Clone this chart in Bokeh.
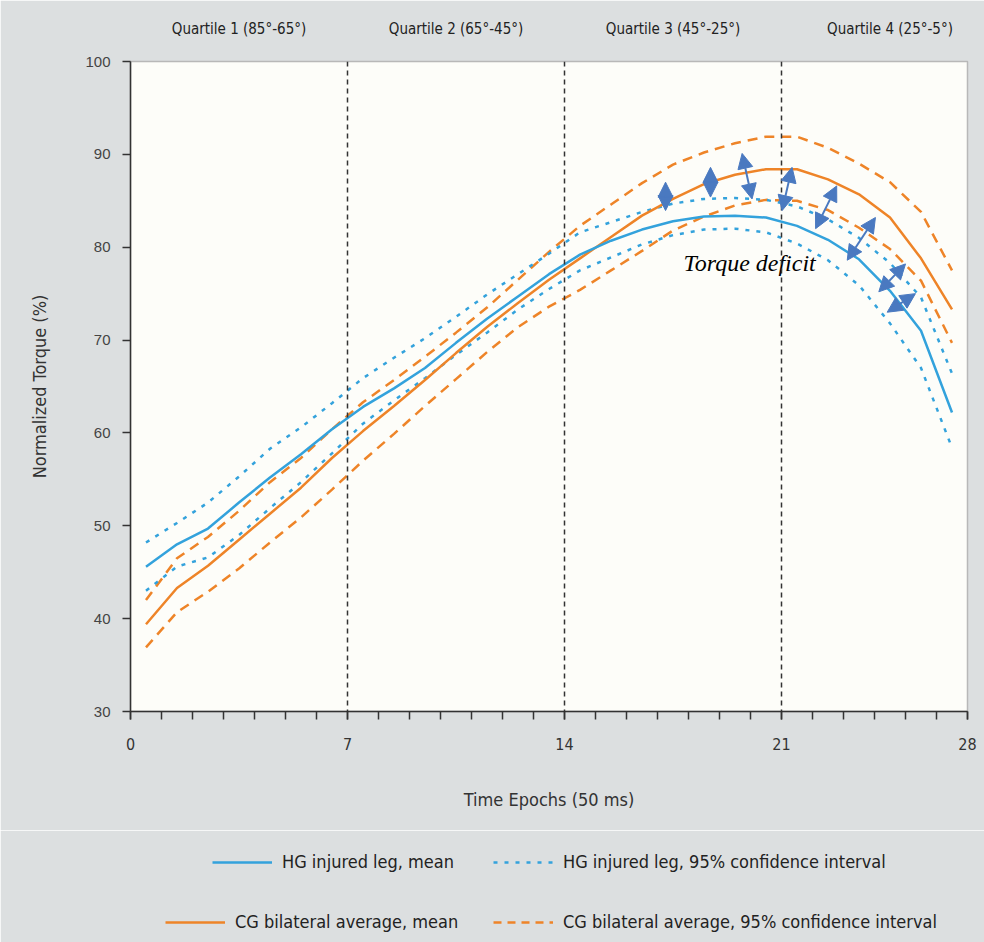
from bokeh.plotting import figure
from bokeh.layouts import column
from bokeh.models import (ColumnDataSource, Range1d, FixedTicker, LinearAxis, Span,
                          Arrow, NormalHead, Legend, LegendItem)
from bokeh.embed import file_html
from bokeh.resources import INLINE
from bokeh.core.properties import value

# ---------------- data ----------------
epochs = [0.5, 1.5, 2.5, 3.5, 4.5, 5.5, 6.5, 7.5, 8.5, 9.5, 10.5, 11.5, 12.5, 13.5,
          14.5, 15.5, 16.5, 17.5, 18.5, 19.5, 20.5, 21.5, 22.5, 23.5, 24.5, 25.5, 26.5]

hg_mean = [45.6, 48.0, 49.7, 52.5, 55.2, 57.7, 60.4, 62.8, 64.8, 67.0, 69.7, 72.3, 74.7, 77.1,
           79.2, 80.7, 81.9, 82.8, 83.3, 83.4, 83.2, 82.3, 80.8, 78.7, 75.3, 71.0, 62.2]
hg_upper = [48.2, 50.3, 52.5, 55.3, 58.3, 60.6, 63.2, 65.9, 68.1, 70.2, 72.5, 74.9, 77.1, 79.3,
            81.6, 82.7, 83.8, 84.7, 85.2, 85.3, 85.1, 84.4, 83.0, 81.0, 78.3, 74.6, 66.4]
hg_lower = [43.0, 45.6, 46.6, 49.0, 51.9, 54.7, 57.8, 61.0, 63.5, 65.9, 68.4, 70.8, 73.3, 75.5,
            77.5, 78.9, 80.3, 81.3, 81.9, 82.0, 81.6, 80.4, 78.6, 75.9, 71.8, 67.0, 58.4]

cg_mean = [39.4, 43.3, 45.7, 48.5, 51.3, 54.1, 57.3, 60.2, 62.9, 65.7, 68.6, 71.4, 74.0, 76.5,
           78.8, 81.1, 83.4, 85.2, 86.8, 87.8, 88.4, 88.4, 87.3, 85.7, 83.2, 78.8, 73.3]
cg_upper = [42.0, 46.5, 48.8, 51.6, 54.7, 57.3, 60.4, 63.3, 65.7, 68.2, 70.8, 73.5, 76.5, 79.5,
            82.3, 84.6, 86.9, 88.9, 90.2, 91.2, 91.9, 91.9, 90.7, 89.0, 87.0, 83.8, 77.5]
cg_lower = [36.9, 40.7, 42.9, 45.4, 48.2, 50.9, 53.9, 57.0, 59.9, 62.9, 65.8, 68.7, 71.4, 73.6,
            75.4, 77.5, 79.6, 81.8, 83.3, 84.5, 85.1, 85.0, 84.0, 82.1, 79.8, 76.4, 69.7]

quartile_bounds = [7, 14, 21]
quartile_centers = [3.5, 10.5, 17.5, 24.5]
quartile_labels = ["Quartile 1 (85°-65°)", "Quartile 2 (65°-45°)",
                   "Quartile 3 (45°-25°)", "Quartile 4 (25°-5°)"]

x_tick_values = [0, 7, 14, 21, 27]
x_tick_labels = ["0", "7", "14", "21", "28"]
x_minor_ticks = list(range(0, 28))
y_tick_values = [30, 40, 50, 60, 70, 80, 90, 100]

legend_labels = ["HG injured leg, mean", "HG injured leg, 95% confidence interval",
                 "CG bilateral average, mean", "CG bilateral average, 95% confidence interval"]

# torque-deficit arrows (start / end points in data units)
arrow_x0 = [17.26, 18.71, 19.73, 21.34, 22.78, 24.03, 25.00, 25.32]
arrow_y0 = [87.0, 88.6, 90.1, 88.6, 86.6, 83.2, 78.2, 75.0]
arrow_x1 = [17.26, 18.71, 20.05, 21.02, 22.10, 23.12, 24.14, 24.41]
arrow_y1 = [83.95, 85.4, 85.2, 83.95, 82.0, 78.6, 75.2, 73.0]

note_text = "Torque deficit"
note_x = 17.84
note_y = 78.25

# ---------------- style ----------------
BLUE = "#33a2dc"
ORANGE = "#ee8428"
ARROW = "#4a79c0"
COND = "DejaVu Sans Condensed"
PAGE_BG = "#dcdfe0"
PLOT_BG = "#fdfdf9"

p = figure(width=984, height=830, output_backend="svg", toolbar_location=None,
           x_range=Range1d(0, 27), y_range=Range1d(30, 100),
           min_border_left=130, min_border_right=17, min_border_top=61, min_border_bottom=119,
           background_fill_color=PLOT_BG, border_fill_color=PAGE_BG)
p.grid.visible = False
p.outline_line_color = "#b8b8b8"
p.outline_line_width = 1.5

# x axis
xa = p.xaxis[0]
xa.ticker = FixedTicker(ticks=x_tick_values, minor_ticks=x_minor_ticks)
xa.major_label_overrides = {v: t for v, t in zip(x_tick_values, x_tick_labels)}
xa.axis_label = "Time Epochs (50 ms)"
xa.axis_label_text_font = COND
xa.axis_label_text_font_style = "normal"
xa.axis_label_text_font_size = "18px"
xa.axis_label_text_color = "#333333"
xa.axis_label_standoff = 36
xa.major_label_text_font = COND
xa.major_label_text_font_size = "16px"
xa.major_label_text_color = "#333333"
xa.major_label_standoff = 18
xa.axis_line_color = "#333333"
xa.axis_line_width = 1.5
xa.major_tick_line_color = "#333333"
xa.major_tick_line_width = 1.5
xa.minor_tick_line_color = "#333333"
xa.minor_tick_line_width = 1.5
xa.major_tick_out = 8
xa.major_tick_in = 0
xa.minor_tick_out = 8
xa.minor_tick_in = 0

# y axis
ya = p.yaxis[0]
ya.ticker = FixedTicker(ticks=y_tick_values, minor_ticks=[])
ya.axis_label = "Normalized Torque (%)"
ya.axis_label_text_font = COND
ya.axis_label_text_font_style = "normal"
ya.axis_label_text_font_size = "18px"
ya.axis_label_text_color = "#333333"
ya.axis_label_standoff = 32
ya.major_label_text_font = "Liberation Sans"
ya.major_label_text_font_size = "15px"
ya.major_label_text_color = "#444444"
ya.major_label_standoff = 12
ya.axis_line_color = "#333333"
ya.axis_line_width = 1.5
ya.major_tick_line_color = "#333333"
ya.major_tick_line_width = 1.5
ya.major_tick_out = 8
ya.major_tick_in = 0

# top axis carrying the quartile labels
ta = LinearAxis(ticker=FixedTicker(ticks=quartile_centers, minor_ticks=[]),
                major_label_overrides={c: t for c, t in zip(quartile_centers, quartile_labels)})
ta.axis_line_color = None
ta.major_tick_line_color = None
ta.minor_tick_line_color = None
ta.major_tick_out = 0
ta.minor_tick_out = 0
ta.major_label_standoff = 24
ta.major_label_text_font = COND
ta.major_label_text_font_size = "15px"
ta.major_label_text_color = "#222222"
p.add_layout(ta, "above")

# quartile separators
for b in quartile_bounds:
    p.add_layout(Span(location=b, dimension="height", line_color="#333333",
                      line_dash="5 4", line_width=1.5))

# series
src = ColumnDataSource(dict(x=epochs, hg_mean=hg_mean, hg_upper=hg_upper, hg_lower=hg_lower,
                            cg_mean=cg_mean, cg_upper=cg_upper, cg_lower=cg_lower))
p.line("x", "cg_upper", source=src, color=ORANGE, line_width=2.5, line_dash="10 7")
p.line("x", "cg_lower", source=src, color=ORANGE, line_width=2.5, line_dash="10 7")
p.line("x", "hg_upper", source=src, color=BLUE, line_width=2.5, line_dash="4 7")
p.line("x", "hg_lower", source=src, color=BLUE, line_width=2.5, line_dash="4 7")
p.line("x", "cg_mean", source=src, color=ORANGE, line_width=2.5)
p.line("x", "hg_mean", source=src, color=BLUE, line_width=2.5)

# arrows
asrc = ColumnDataSource(dict(x0=arrow_x0, y0=arrow_y0, x1=arrow_x1, y1=arrow_y1))
p.add_layout(Arrow(start=NormalHead(size=15, fill_color=ARROW, line_color=ARROW),
                   end=NormalHead(size=15, fill_color=ARROW, line_color=ARROW),
                   x_start="x0", y_start="y0", x_end="x1", y_end="y1", source=asrc,
                   line_color=ARROW, line_width=2))

p.text(x=[note_x], y=[note_y], text=[note_text], text_font=value("Liberation Serif"),
       text_font_style="italic", text_font_size="24px", text_color="#000000",
       text_align="left", text_baseline="alphabetic")

# ---------------- legend strip below the chart ----------------
q = figure(width=984, height=112, output_backend="svg", toolbar_location=None,
           x_range=Range1d(0, 27), y_range=Range1d(30, 100),
           x_axis_type=None, y_axis_type=None,
           min_border_left=0, min_border_right=0, min_border_top=4, min_border_bottom=0,
           background_fill_color=PAGE_BG, border_fill_color=PAGE_BG)
q.grid.visible = False
q.outline_line_color = PAGE_BG
q.outline_line_width = 4

# hidden copies of the series: they only provide the legend keys
key_hg_mean = q.line("x", "hg_mean", source=src, color=BLUE, line_width=2.5, visible=False)
key_hg_ci = q.line("x", "hg_upper", source=src, color=BLUE, line_width=2.5, line_dash="4 7",
                   visible=False)
key_cg_mean = q.line("x", "cg_mean", source=src, color=ORANGE, line_width=2.5, visible=False)
key_cg_ci = q.line("x", "cg_upper", source=src, color=ORANGE, line_width=2.5, line_dash="8 6",
                   visible=False)

legend_keys = [key_hg_mean, key_hg_ci, key_cg_mean, key_cg_ci]
legend_locs = [(82, 70), (363, 70), (35, 10), (363, 10)]
for lab, rend, loc in zip(legend_labels, legend_keys, legend_locs):
    lg = Legend(items=[LegendItem(label=lab, renderers=[rend])], location=loc)
    lg.glyph_width = 60
    lg.glyph_height = 20
    lg.label_height = 20
    lg.label_standoff = 10
    lg.padding = 0
    lg.margin = 0
    lg.label_text_font = COND
    lg.label_text_font_size = "18px"
    lg.label_text_color = "#222222"
    lg.background_fill_alpha = 0
    lg.border_line_alpha = 0
    lg.inactive_fill_alpha = 0
    q.add_layout(lg, "center")

layout = column(p, q, spacing=0)
open("out.html", "w").write(file_html(layout, INLINE))
